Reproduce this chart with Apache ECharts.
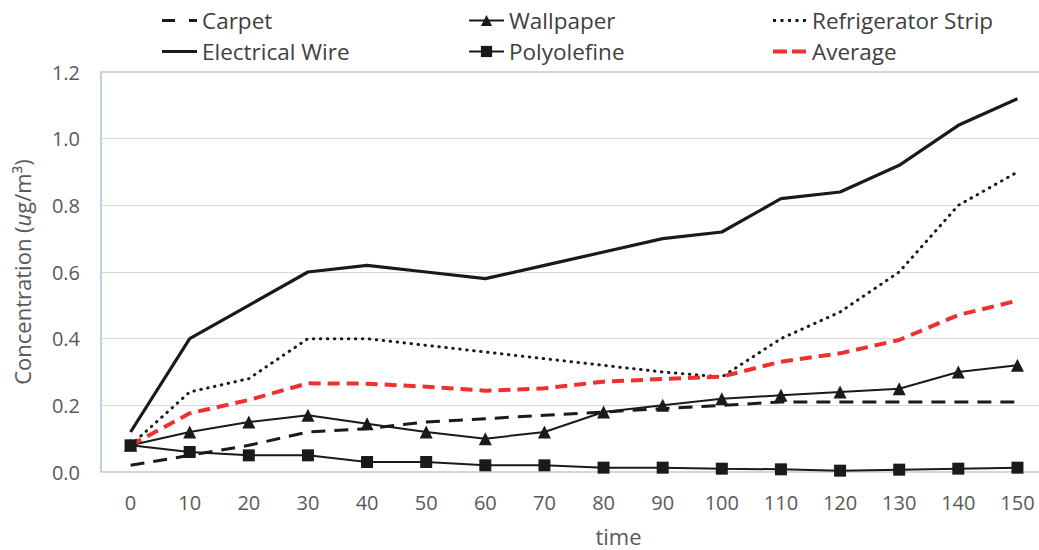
<!DOCTYPE html>
<html><head><meta charset="utf-8">
<script src="https://cdn.jsdelivr.net/npm/echarts@6/dist/echarts.min.js"></script>
<style>html,body{margin:0;padding:0;background:#fff;overflow:hidden}#c{width:1039px;height:550px}</style>
</head><body><div id="c"></div>
<script>
const categories = ['0','10','20','30','40','50','60','70','80','90','100','110','120','130','140','150'];
const carpet = [0.02,0.05,0.08,0.12,0.13,0.15,0.16,0.17,0.18,0.19,0.20,0.21,0.21,0.21,0.21,0.21];
const wallpaper = [0.08,0.12,0.15,0.17,0.145,0.12,0.10,0.12,0.18,0.20,0.22,0.23,0.24,0.25,0.30,0.32];
const refrigeratorStrip = [0.08,0.24,0.28,0.40,0.40,0.38,0.36,0.34,0.32,0.30,0.285,0.40,0.48,0.60,0.80,0.90];
const electricalWire = [0.12,0.40,0.50,0.60,0.62,0.60,0.58,0.62,0.66,0.70,0.72,0.82,0.84,0.92,1.04,1.12];
const polyolefine = [0.08,0.06,0.05,0.05,0.03,0.03,0.02,0.02,0.013,0.013,0.01,0.008,0.004,0.007,0.01,0.013];
const average = [0.08,0.176,0.216,0.266,0.265,0.256,0.244,0.251,0.271,0.279,0.286,0.331,0.356,0.396,0.471,0.514];
const yTicks = ['0.0','0.2','0.4','0.6','0.8','1.0','1.2'];

const FONT = 'Open Sans';
const TXT = '#595959';
const BLK = '#1a1a1a';
const RED = '#ee3030';
function leg(name, left, top, icon, h) {
  const d = icon ? { name: name, icon: icon } : name;
  return { data: [d], left: left, top: top, itemWidth: 35, itemHeight: h || 14, itemGap: 4,
    textStyle: { fontFamily: FONT, fontSize: 22.5, color: '#404040' }, padding: 0 };
}
const ICON_CARPET = 'path://M0,0h13v3h-13z M27,0h8v3h-8z';
const ICON_SOLID = 'path://M0,0h35v3h-35z';
const ICON_DOTS = 'path://M0,0h3v3h-3z M7.5,0h3v3h-3z M15,0h3v3h-3z M22.5,0h3v3h-3z M30,0h3v3h-3z';
const ICON_AVG = 'path://M0,0h14v4h-14z M19,0h14v4h-14z';

const chart = echarts.init(document.getElementById('c'), null, { renderer: 'svg' });
chart.setOption({
  animation: false,
  backgroundColor: '#fff',
  legend: [
    leg('Carpet', 162, 9, ICON_CARPET, 3), leg('Wallpaper', 468, 9), leg('Refrigerator Strip', 773, 9, ICON_DOTS, 3),
    leg('Electrical Wire', 162, 40, ICON_SOLID, 3), leg('Polyolefine', 468, 40), leg('Average', 773, 40, ICON_AVG, 4)
  ],
  grid: { left: 101, top: 72, width: 946, height: 400, show: true, borderColor: '#8fb4e0', borderWidth: 1.2,
    containLabel: false, outerBoundsMode: 'none' },
  xAxis: {
    type: 'category', data: categories, boundaryGap: true,
    name: 'time', nameLocation: 'middle', nameGap: 54,
    nameTextStyle: { fontFamily: FONT, fontSize: 22, lineHeight: 20, color: TXT, padding: [0, 0, 0, 89] },
    axisLine: { show: false }, axisTick: { show: false },
    axisLabel: { fontFamily: FONT, fontSize: 20, color: TXT, margin: 20 }
  },
  yAxis: {
    type: 'value', min: 0, max: 1.2, interval: 0.2,
    name: '{n|Concentration (}{i|u}{n|g/m³)}', nameLocation: 'middle', nameGap: 68,
    nameTextStyle: { fontFamily: FONT, fontSize: 22, color: TXT,
      rich: { n: { fontFamily: FONT, fontSize: 22, color: TXT }, i: { fontFamily: FONT, fontSize: 22, color: TXT, fontStyle: 'italic' } } },
    axisLine: { show: false }, axisTick: { show: false },
    axisLabel: { fontFamily: FONT, fontSize: 20, color: TXT, margin: 21,
      formatter: function (v) { return yTicks[Math.round(v / 0.2)]; } },
    splitLine: { lineStyle: { color: '#d9d9d9', width: 1 } }
  },
  series: [
    { name: 'Carpet', type: 'line', data: carpet, symbol: 'none',
      lineStyle: { color: BLK, width: 3, type: [14, 9] }, itemStyle: { color: BLK } },
    { name: 'Wallpaper', type: 'line', data: wallpaper, symbol: 'triangle', symbolSize: 13,
      lineStyle: { color: BLK, width: 2 }, itemStyle: { color: BLK } },
    { name: 'Refrigerator Strip', type: 'line', data: refrigeratorStrip, symbol: 'none',
      lineStyle: { color: BLK, width: 3, type: [0.5, 6.5], cap: 'round' }, itemStyle: { color: BLK } },
    { name: 'Electrical Wire', type: 'line', data: electricalWire, symbol: 'none',
      lineStyle: { color: BLK, width: 3.2 }, itemStyle: { color: BLK } },
    { name: 'Polyolefine', type: 'line', data: polyolefine, symbol: 'rect', symbolSize: 12,
      lineStyle: { color: BLK, width: 2 }, itemStyle: { color: BLK } },
    { name: 'Average', type: 'line', data: average, symbol: 'none', z: 3,
      lineStyle: { color: RED, width: 4, type: [12, 7] }, itemStyle: { color: RED } }
  ]
});
</script></body></html>
